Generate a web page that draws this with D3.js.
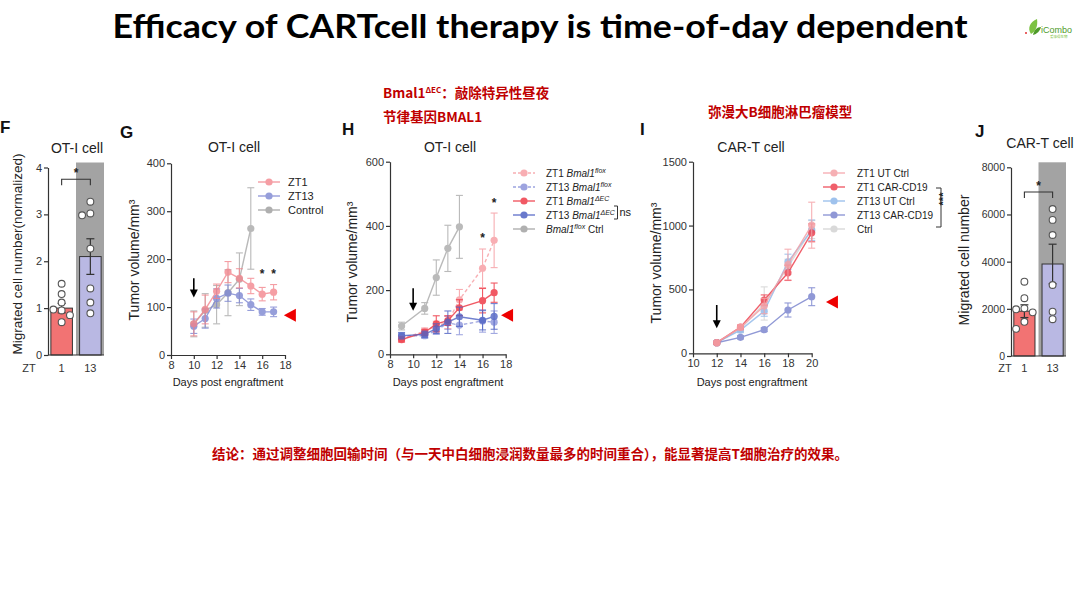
<!DOCTYPE html>
<html><head><meta charset="utf-8">
<script src="https://cdn.jsdelivr.net/npm/d3@7"></script>
<style>body{margin:0;background:#fff}svg{display:block}</style>
</head><body>
<svg id="c" width="1080" height="608"></svg>
<script>
// ================= DATA =================
const titleText = "Efficacy of CARTcell therapy is time-of-day dependent";
const note1a = "Bmal1", note1sup = "ΔEC", note1b = "：敲除特异性昼夜";
const note2 = "节律基因BMAL1";
const note3 = "弥漫大B细胞淋巴瘤模型";
const conclusion = "结论：通过调整细胞回输时间（与一天中白细胞浸润数量最多的时间重合），能显著提高T细胞治疗的效果。";

// Panel F
const fGroups = ["1", "13"];
const fMeans = [1.0, 2.1];
const fErr = [0.1, 0.38];
const fPtsZT1 = [1.52, 1.3, 1.12, 0.97, 0.95, 0.85, 0.7];
const fPtsZT13 = [3.27, 3.02, 2.98, 2.27, 1.42, 1.12, 0.89];
const fTicks = [0, 1, 2, 3, 4];

// Panel G
const gDays = [10, 11, 12, 13, 14, 15, 16, 17];
const gZT1 = [65, 95, 133, 173, 160, 144, 127, 131];
const gZT1Err = [25, 30, 15, 22, 20, 16, 14, 16];
const gZT13 = [60, 76, 118, 129, 124, 105, 90, 90];
const gZT13Err = [15, 20, 20, 17, 15, 12, 7, 10];
const gCtrlDays = [10, 11, 12, 13, 14, 15];
const gCtrl = [65, 93, 105, 130, 158, 264];
const gCtrlErr = [27, 35, 40, 48, 55, 85];
const gLegend = ["ZT1", "ZT13", "Control"];
const gXTicks = [8, 10, 12, 14, 16, 18];
const gYTicks = [0, 100, 200, 300, 400];

// Panel H
const hDays = [9, 11, 12, 13, 14, 16, 17];
const hZT1flox = [48, 72, 88, 100, 170, 268, 355];
const hZT1floxErr = [8, 10, 15, 20, 32, 60, 85];
const hZT13flox = [57, 58, 74, 98, 91, 104, 100];
const hZT13floxErr = [8, 8, 12, 20, 30, 35, 35];
const hZT1dEC = [46, 68, 95, 105, 145, 167, 192];
const hZT1dECErr = [8, 10, 25, 15, 25, 38, 30];
const hZT13dEC = [58, 62, 80, 100, 117, 106, 118];
const hZT13dECErr = [10, 10, 15, 35, 30, 30, 40];
const hCtrlDays = [9, 11, 12, 13, 14];
const hCtrl = [88, 143, 239, 330, 397];
const hCtrlErr = [12, 18, 55, 72, 98];
const hXTicks = [8, 10, 12, 14, 16, 18];
const hYTicks = [0, 200, 400, 600];

// Panel I
const iDays = [12, 14, 16, 18, 20];
const iZT1UT = [83, 203, 370, 695, 1003];
const iZT1UTErr = [10, 20, 60, 120, 180];
const iZT1CAR = [83, 205, 417, 630, 943];
const iZT1CARErr = [10, 15, 40, 60, 70];
const iZT13UT = [83, 182, 330, 716, 964];
const iZT13UTErr = [10, 20, 40, 60, 80];
const iZT13CAR = [83, 125, 185, 339, 443];
const iZT13CARErr = [8, 12, 15, 55, 70];
const iCtrl = [83, 190, 390, 677, 969];
const iCtrlErr = [10, 20, 130, 60, 70];
const iLegend = ["ZT1 UT Ctrl", "ZT1 CAR-CD19", "ZT13 UT Ctrl", "ZT13 CAR-CD19", "Ctrl"];
const iXTicks = [10, 12, 14, 16, 18, 20];
const iYTicks = [0, 500, 1000, 1500];

// Panel J
const jGroups = ["1", "13"];
const jMeans = [1900, 3900];
const jErr = [270, 840];
const jPtsZT1 = [3150, 2450, 2020, 1980, 1850, 1450, 1150];
const jPtsZT13 = [6230, 5770, 5130, 3010, 1880, 1560];
const jTicks = [0, 2000, 4000, 6000, 8000];

// ================= DRAW =================
const svg = d3.select("#c");
const FONT = "'Liberation Sans', Arial, sans-serif";
const CJK = "'Noto Sans CJK SC', sans-serif";
const RED = "#c00000";
const fmtInt = d3.format("d");

// Title
svg.append("text").attr("x", 540).attr("y", 38).attr("text-anchor", "middle")
  .attr("font-family", "Lato, 'Open Sans', sans-serif").attr("font-weight", 700)
  .attr("font-size", 33).attr("textLength", 855).attr("lengthAdjust", "spacingAndGlyphs")
  .attr("fill", "#000").text(titleText);

// Logo
const logo = svg.append("g");
logo.append("path").attr("d", "M1031,34 C1027,28 1030,22 1037,19 C1038,26 1036,31 1031,34 Z").attr("fill", "#7cc242");
logo.append("path").attr("d", "M1033,35 C1034,30 1037,27 1041,27 C1040,31 1037,34 1033,35 Z").attr("fill", "#4e9a2a");
logo.append("circle").attr("cx", 1026).attr("cy", 33).attr("r", 1).attr("fill", "#e03030");
logo.append("text").attr("x", 1041).attr("y", 33).attr("font-family", FONT).attr("font-size", 9)
  .attr("fill", "#4e9a2a").text("iCombo");
logo.append("text").attr("x", 1050).attr("y", 38).attr("font-family", CJK).attr("font-size", 3.5)
  .attr("fill", "#7cc242").text("爱康得生物");

// Red notes
const n1 = svg.append("text").attr("x", 383).attr("y", 98).attr("font-family", CJK)
  .attr("font-weight", 700).attr("font-size", 13.5).attr("fill", RED);
n1.append("tspan").text(note1a);
n1.append("tspan").attr("dy", -5).attr("font-size", 8).text(note1sup);
n1.append("tspan").attr("dy", 5).text(note1b);
svg.append("text").attr("x", 383).attr("y", 122).attr("font-family", CJK).attr("font-weight", 700)
  .attr("font-size", 13.5).attr("fill", RED).text(note2);
svg.append("text").attr("x", 708).attr("y", 117).attr("font-family", CJK).attr("font-weight", 700)
  .attr("font-size", 13.5).attr("fill", RED).text(note3);
svg.append("text").attr("x", 212).attr("y", 459).attr("font-family", CJK).attr("font-weight", 700)
  .attr("font-size", 13.5).attr("fill", RED).attr("textLength", 636).attr("lengthAdjust", "spacingAndGlyphs")
  .text(conclusion);

function styleAxis(a, fs) {
  a.select(".domain").attr("stroke", "#333").attr("stroke-width", 1.2);
  a.selectAll(".tick line").attr("stroke", "#333").attr("stroke-width", 1.2);
  a.selectAll(".tick text").attr("font-family", FONT).attr("font-size", fs || 11).attr("fill", "#333");
}
function txt(x, y, s, o) {
  o = o || {};
  const t = svg.append("text").attr("x", x).attr("y", y).attr("font-family", o.font || FONT)
    .attr("font-size", o.size || 14).attr("fill", o.fill || "#222")
    .attr("text-anchor", o.anchor || "middle").attr("font-weight", o.weight || 400);
  if (o.rotate) t.attr("transform", `rotate(-90,${x},${y})`);
  if (o.parts) addParts(t, o.parts); else t.text(s);
  return t;
}
function addParts(t, parts) {
  let up = false;
  parts.forEach(p => {
    const ts = t.append("tspan").text(p.t);
    if (p.i) ts.attr("font-style", "italic");
    if (p.sup && !up) { ts.attr("dy", -4).attr("font-size", 7); up = true; }
    else if (p.sup) { ts.attr("font-size", 7); }
    else if (up) { ts.attr("dy", 4); up = false; }
  });
}
function arrowDown(x, y1, y2) {
  svg.append("line").attr("x1", x).attr("x2", x).attr("y1", y1).attr("y2", y2 - 6)
    .attr("stroke", "#000").attr("stroke-width", 1.6);
  svg.append("path").attr("d", `M${x - 4},${y2 - 8} L${x + 4},${y2 - 8} L${x},${y2} Z`).attr("fill", "#000");
}
function redTri(x, y) {
  svg.append("path").attr("d", `M${x},${y} L${x + 12},${y - 6.5} L${x + 12},${y + 6.5} Z`).attr("fill", "#ee0000");
}

function linePanel(o) {
  const x = d3.scaleLinear().domain(o.xDomain).range(o.xRange);
  const y = d3.scaleLinear().domain(o.yDomain).range(o.yRange);
  const ya = svg.append("g").attr("transform", `translate(${o.xRange[0]},0)`)
    .call(d3.axisLeft(y).tickValues(o.yTicks).tickFormat(fmtInt).tickSize(4).tickPadding(2).tickSizeOuter(0));
  styleAxis(ya);
  const xa = svg.append("g").attr("transform", `translate(0,${o.yRange[0]})`)
    .call(d3.axisBottom(x).tickValues(o.xTicks).tickFormat(fmtInt).tickSize(4).tickPadding(2).tickSizeOuter(0));
  styleAxis(xa);
  o.series.forEach(s => {
    const g = svg.append("g").attr("opacity", s.op || 0.85);
    const pts = s.days.map((d, i) => ({ d, v: s.vals[i], e: s.errs[i] }));
    pts.forEach(p => {
      g.append("line").attr("x1", x(p.d)).attr("x2", x(p.d)).attr("y1", y(p.v - p.e)).attr("y2", y(p.v + p.e))
        .attr("stroke", s.color).attr("stroke-width", 1.1);
      [p.v - p.e, p.v + p.e].forEach(vv => g.append("line").attr("x1", x(p.d) - 3.5).attr("x2", x(p.d) + 3.5)
        .attr("y1", y(vv)).attr("y2", y(vv)).attr("stroke", s.color).attr("stroke-width", 1.1));
    });
    g.append("path").attr("d", d3.line().x(p => x(p.d)).y(p => y(p.v))(pts)).attr("fill", "none")
      .attr("stroke", s.color).attr("stroke-width", 1.4).attr("stroke-dasharray", s.dash ? "3.5,2.5" : null);
    g.selectAll(null).data(pts).enter().append("circle").attr("cx", p => x(p.d)).attr("cy", p => y(p.v))
      .attr("r", 3.6).attr("fill", s.color);
  });
  return { x, y };
}

function legend(x0, y0, step, tOff, items) {
  items.forEach((it, i) => {
    const yy = y0 + i * step;
    const g = svg.append("g").attr("opacity", it.op || 0.85);
    g.append("line").attr("x1", x0).attr("x2", x0 + 22).attr("y1", yy).attr("y2", yy).attr("stroke", it.color)
      .attr("stroke-width", 1.4).attr("stroke-dasharray", it.dash ? "3,2" : null);
    g.append("circle").attr("cx", x0 + 11).attr("cy", yy).attr("r", 3.6).attr("fill", it.color);
    txt(x0 + tOff, yy + 4, it.label, { size: it.size || 11, anchor: "start", parts: it.parts });
  });
}

function barPanel(o) {
  const x = d3.scaleBand().domain(o.groups).range(o.xRange).paddingInner(0.25).paddingOuter(0.1);
  const y = d3.scaleLinear().domain([0, o.ticks[o.ticks.length - 1]]).range(o.yRange);
  const sx = x(o.groups[1]) - x.step() * 0.125;
  svg.append("rect").attr("x", sx).attr("y", o.yRange[1] - 5).attr("width", o.xRange[1] - sx)
    .attr("height", o.yRange[0] - o.yRange[1] + 5).attr("fill", "#a3a3a3");
  o.groups.forEach((gname, i) => {
    svg.append("rect").attr("x", x(gname)).attr("y", y(o.means[i])).attr("width", x.bandwidth())
      .attr("height", y(0) - y(o.means[i])).attr("fill", o.colors[i]).attr("stroke", "#333").attr("stroke-width", 1);
    const cx = x(gname) + x.bandwidth() / 2;
    svg.append("line").attr("x1", cx).attr("x2", cx).attr("y1", y(o.means[i] - o.errs[i])).attr("y2", y(o.means[i] + o.errs[i]))
      .attr("stroke", "#333").attr("stroke-width", 1.2);
    [o.means[i] - o.errs[i], o.means[i] + o.errs[i]].forEach(v => svg.append("line")
      .attr("x1", cx - 4).attr("x2", cx + 4).attr("y1", y(v)).attr("y2", y(v)).attr("stroke", "#333").attr("stroke-width", 1.2));
    const r = 3.4, placed = [];
    o.pts[i].forEach(v => {
      const py = y(v);
      const used = placed.filter(p => Math.abs(p.py - py) < 2 * r + 0.5).map(p => p.slot);
      const slot = [0, -1, 1, -2, 2].find(s => !used.includes(s));
      placed.push({ py, slot });
      svg.append("circle").attr("cx", cx + slot * (2 * r + 1.5)).attr("cy", py).attr("r", r)
        .attr("fill", "#fff").attr("stroke", "#555").attr("stroke-width", 1.1);
    });
    txt(cx, 372, gname, { size: 11, fill: "#333" });
  });
  const ya = svg.append("g").attr("transform", `translate(${o.xRange[0]},0)`)
    .call(d3.axisLeft(y).tickValues(o.ticks).tickFormat(fmtInt).tickSize(4).tickPadding(2).tickSizeOuter(0));
  styleAxis(ya, o.tickSize || 11);
  svg.append("line").attr("x1", o.xRange[0]).attr("x2", o.xRange[1]).attr("y1", y(0)).attr("y2", y(0))
    .attr("stroke", "#333").attr("stroke-width", 1.2);
  const c1 = x(o.groups[0]) + x.bandwidth() / 2, c2 = x(o.groups[1]) + x.bandwidth() / 2;
  const by = y(o.bracket);
  svg.append("path").attr("d", `M${c1},${by + 6} V${by} H${c2} V${by + 6}`).attr("fill", "none")
    .attr("stroke", "#333").attr("stroke-width", 1.1);
  txt((c1 + c2) / 2, by - 2, "*", { size: 12, weight: 700 });
  txt(o.ztX, 372, "ZT", { size: 11, fill: "#333" });
  return { x, y };
}

// ---------- Panel F ----------
txt(0, 133, "F", { size: 17, weight: 700, anchor: "start", fill: "#111" });
txt(77, 153, "OT-I cell", { size: 14 });
txt(22, 254, "Migrated cell number(normalized)", { size: 13.5, rotate: true });
barPanel({ groups: fGroups, means: fMeans, errs: fErr, pts: [fPtsZT1, fPtsZT13], ticks: fTicks,
  xRange: [48, 104], yRange: [355, 167.5], colors: ["#f27373", "#b9b8e3"], bracket: 3.75, ztX: 29 });

// ---------- Panel G ----------
txt(120, 138, "G", { size: 17, weight: 700, anchor: "start", fill: "#111" });
txt(234, 152, "OT-I cell", { size: 14 });
txt(139, 260, "Tumor volume/mm³", { size: 14, rotate: true });
txt(228, 386, "Days post engraftment", { size: 11 });
const G = linePanel({ xDomain: [8, 18], xRange: [171, 285], yDomain: [0, 400], yRange: [355, 163.3],
  xTicks: gXTicks, yTicks: gYTicks, series: [
    { days: gCtrlDays, vals: gCtrl, errs: gCtrlErr, color: "#9c9c9c", op: 0.7 },
    { days: gDays, vals: gZT13, errs: gZT13Err, color: "#7d86d2", op: 0.8 },
    { days: gDays, vals: gZT1, errs: gZT1Err, color: "#f3868e", op: 0.8 }
  ] });
legend(258, 182, 14, 30, [
  { label: gLegend[0], color: "#f3868e", op: 0.8 },
  { label: gLegend[1], color: "#7d86d2", op: 0.8 },
  { label: gLegend[2], color: "#9c9c9c", op: 0.8 }
]);
[16, 17].forEach(d => txt(G.x(d), G.y(160), "*", { size: 12, weight: 700 }));
arrowDown(G.x(10), G.y(160), G.y(120));
redTri(G.x(17.9), G.y(83));

// ---------- Panel H ----------
txt(342, 135, "H", { size: 17, weight: 700, anchor: "start", fill: "#111" });
txt(450, 152, "OT-I cell", { size: 14 });
txt(357, 262, "Tumor volume/mm³", { size: 14, rotate: true });
txt(448, 386, "Days post engraftment", { size: 11 });
const Hc = { f1: "#f7a1a6", f13: "#8c94da", d1: "#ef3d4a", d13: "#4f62c4", c: "#a3a3a3" };
const Hp = linePanel({ xDomain: [8, 18], xRange: [390, 505.7], yDomain: [0, 600], yRange: [354.3, 161.7],
  xTicks: hXTicks, yTicks: hYTicks, series: [
    { days: hCtrlDays, vals: hCtrl, errs: hCtrlErr, color: Hc.c, op: 0.75 },
    { days: hDays, vals: hZT13flox, errs: hZT13floxErr, color: Hc.f13, dash: true, op: 0.8 },
    { days: hDays, vals: hZT1flox, errs: hZT1floxErr, color: Hc.f1, dash: true, op: 0.85 },
    { days: hDays, vals: hZT1dEC, errs: hZT1dECErr, color: Hc.d1, op: 0.85 },
    { days: hDays, vals: hZT13dEC, errs: hZT13dECErr, color: Hc.d13, op: 0.8 }
  ] });
legend(513, 173, 14, 33, [
  { color: Hc.f1, dash: true, size: 10, parts: [{ t: "ZT1 " }, { t: "Bmal1", i: 1 }, { t: "flox", i: 1, sup: 1 }] },
  { color: Hc.f13, dash: true, size: 10, parts: [{ t: "ZT13 " }, { t: "Bmal1", i: 1 }, { t: "flox", i: 1, sup: 1 }] },
  { color: Hc.d1, size: 10, parts: [{ t: "ZT1 " }, { t: "Bmal1", i: 1 }, { t: "ΔEC", i: 1, sup: 1 }] },
  { color: Hc.d13, size: 10, parts: [{ t: "ZT13 " }, { t: "Bmal1", i: 1 }, { t: "ΔEC", i: 1, sup: 1 }] },
  { color: Hc.c, size: 10, parts: [{ t: "Bmal1", i: 1 }, { t: "flox", i: 1, sup: 1 }, { t: " Ctrl" }] }
]);
svg.append("path").attr("d", "M614,206 H617.5 V219 H614").attr("fill", "none").attr("stroke", "#333").attr("stroke-width", 1);
txt(619.5, 216, "ns", { size: 11, anchor: "start" });
txt(Hp.x(16), Hp.y(350), "*", { size: 12, weight: 700 });
txt(Hp.x(17), Hp.y(460), "*", { size: 12, weight: 700 });
arrowDown(Hp.x(10), Hp.y(206), Hp.y(136));
redTri(Hp.x(17.6), Hp.y(122));

// ---------- Panel I ----------
txt(640, 135, "I", { size: 17, weight: 700, anchor: "start", fill: "#111" });
txt(751, 152, "CAR-T cell", { size: 14 });
txt(661, 263, "Tumor volume/mm³", { size: 14, rotate: true });
txt(752, 386, "Days post engraftment", { size: 11 });
const Ic = ["#f5a3a8", "#ee4452", "#8fb8ea", "#7d87cf", "#d3d3d3"];
const Ip = linePanel({ xDomain: [10, 20], xRange: [693, 811.7], yDomain: [0, 1500], yRange: [353.3, 161.7],
  xTicks: iXTicks, yTicks: iYTicks, series: [
    { days: iDays, vals: iCtrl, errs: iCtrlErr, color: Ic[4], op: 0.8 },
    { days: iDays, vals: iZT13CAR, errs: iZT13CARErr, color: Ic[3], op: 0.85 },
    { days: iDays, vals: iZT13UT, errs: iZT13UTErr, color: Ic[2], op: 0.8 },
    { days: iDays, vals: iZT1CAR, errs: iZT1CARErr, color: Ic[1], op: 0.85 },
    { days: iDays, vals: iZT1UT, errs: iZT1UTErr, color: Ic[0], op: 0.85 }
  ] });
legend(823, 173, 14, 34, iLegend.map((l, i) => ({ label: l, color: Ic[i], size: 10, op: 0.85 })));
svg.append("path").attr("d", "M936,188 H941 V227 H936").attr("fill", "none").attr("stroke", "#333").attr("stroke-width", 1);
txt(947, 199, "***", { size: 11, weight: 700, rotate: true });
arrowDown(Ip.x(12), Ip.y(378), Ip.y(196));
redTri(Ip.x(21.2), Ip.y(401));

// ---------- Panel J ----------
txt(975, 137, "J", { size: 17, weight: 700, anchor: "start", fill: "#111" });
txt(1040, 148, "CAR-T cell", { size: 14 });
txt(969, 260, "Migrated cell number", { size: 14, rotate: true });
barPanel({ groups: jGroups, means: jMeans, errs: jErr, pts: [jPtsZT1, jPtsZT13], ticks: jTicks,
  xRange: [1011, 1066], yRange: [356, 167.3], colors: ["#f27373", "#b9b8e3"], bracket: 6950, ztX: 1005,
  tickSize: 10.5 });
</script>
</body></html>
